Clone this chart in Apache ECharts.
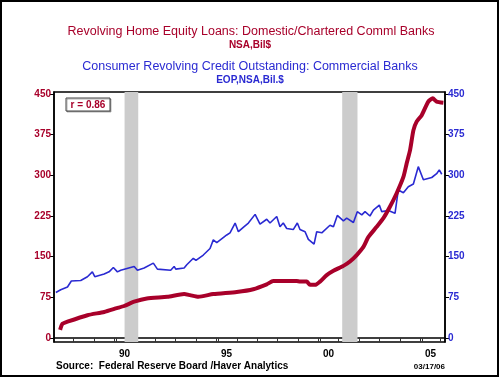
<!DOCTYPE html>
<html>
<head>
<meta charset="utf-8">
<script src="https://cdn.jsdelivr.net/npm/echarts@6/dist/echarts.min.js"></script>
<style>
  html, body { margin: 0; padding: 0; background: #fff; }
  #chart { width: 500px; height: 378px; }
</style>
</head>
<body>
<div id="chart"></div>
<script>
// decimal years and Bil$ values
const homeEquityYears = [1987.34, 1987.45, 1987.70, 1988.68, 1989.50, 1990.12, 1990.48, 1990.97, 1991.59, 1992.60,
  1993.42, 1993.71, 1994.12, 1994.85, 1996.00, 1996.81, 1997.47, 1997.79, 1998.94, 1999.10,
  1999.43, 1999.59, 1999.84, 2000.08, 2000.41, 2000.74, 2001.23, 2001.55, 2001.88, 2002.21,
  2002.45, 2002.86, 2003.19, 2003.51, 2003.84, 2004.17, 2004.33, 2004.50, 2004.66, 2004.82,
  2005.07, 2005.39, 2005.61, 2005.80, 2006.13]
const homeEquityValues = [15, 26, 30, 42, 48, 55, 59, 67, 73, 76,
  81, 79, 76, 81, 85, 90, 99, 105, 105, 104,
  104, 98, 98, 104, 116, 124, 133, 141, 153, 168,
  186, 205, 221, 242, 267, 297, 322, 347, 383, 399,
  411, 436, 442, 436, 434]

const revolvingYears = [1987.13, 1987.37, 1987.70, 1987.89, 1988.35, 1988.68, 1988.92, 1989.04, 1989.50, 1989.74,
  1989.95, 1990.15, 1990.31, 1990.39, 1990.97, 1991.13, 1991.46, 1991.91, 1992.11, 1992.76,
  1992.93, 1993.01, 1993.42, 1993.55, 1993.87, 1994.00, 1994.36, 1994.69, 1994.85, 1995.02,
  1995.51, 1995.67, 1995.92, 1996.08, 1996.32, 1996.57, 1996.90, 1997.14, 1997.47, 1997.63,
  1997.96, 1998.12, 1998.28, 1998.45, 1998.77, 1998.97, 1999.10, 1999.35, 1999.51, 1999.79,
  1999.92, 2000.17, 2000.57, 2000.74, 2000.93, 2001.23, 2001.39, 2001.72, 2001.91, 2002.13,
  2002.29, 2002.53, 2002.70, 2002.99, 2003.11, 2003.43, 2003.76, 2003.92, 2004.17, 2004.41,
  2004.66, 2004.74, 2004.90, 2005.15, 2005.56, 2005.80, 2005.93, 2006.05]
const revolvingValues = [84, 89, 94, 105, 106, 113, 122, 113, 118, 122,
  130, 122, 125, 122, 132, 125, 129, 138, 127, 125,
  132, 127, 129, 135, 147, 143, 153, 165, 181, 176,
  190, 194, 212, 196, 204, 212, 228, 210, 219, 212,
  224, 205, 212, 202, 200, 212, 200, 196, 182, 173,
  196, 194, 208, 205, 226, 216, 221, 213, 233, 227,
  233, 225, 236, 245, 233, 235, 230, 273, 268, 279,
  284, 285, 316, 292, 296, 303, 310, 302]

const recessions = [[1990.5, 1991.17], [2001.17, 2001.92]]
const yTicks = [0, 75, 150, 225, 300, 375, 450]
const yearTicks = [1988, 1989, 1990, 1990.08, 1991, 1992, 1993, 1994, 1995, 1995.08, 1996, 1997, 1998, 1999,
  2000, 2000.08, 2001, 2002, 2003, 2004, 2005, 2005.08, 2006]
const yearLabels = { 1990.5: '90', 1995.5: '95', 2000.5: '00', 2005.5: '05' }

const RED = '#a8002a'
const BLUE = '#2a2ad2'
const FONT = 'Liberation Sans, Arial, sans-serif'

const chart = echarts.init(document.getElementById('chart'))

function yAxisCfg(pos, color) {
  return {
    type: 'value',
    position: pos,
    min: -7.4,
    max: 453.7,
    axisLine: { show: true, lineStyle: { color: '#000', width: 1.5 } },
    axisTick: { show: true, customValues: yTicks, length: 4, lineStyle: { color: '#000' } },
    axisLabel: {
      customValues: yTicks,
      color: color,
      fontFamily: FONT,
      fontSize: 10,
      fontWeight: 'bold',
      margin: 3,
    },
    splitLine: { show: false },
  }
}

chart.setOption({
  animation: false,
  backgroundColor: '#fff',
  grid: {
    left: 54, right: 55, top: 92, bottom: 36,
    show: true, borderColor: '#000', borderWidth: 1.5,
  },
  xAxis: {
    type: 'value',
    min: 1987.04,
    max: 2006.21,
    axisLine: { show: true, lineStyle: { color: '#000', width: 1.5 } },
    axisTick: { show: true, customValues: yearTicks, length: 4, lineStyle: { color: '#333' } },
    axisLabel: {
      customValues: Object.keys(yearLabels).map(Number),
      formatter: (v) => yearLabels[v] ?? '',
      color: '#000',
      fontFamily: FONT,
      fontSize: 10,
      fontWeight: 'bold',
      margin: 7,
    },
    splitLine: { show: false },
  },
  yAxis: [yAxisCfg('left', RED), yAxisCfg('right', BLUE)],
  graphic: [
    { type: 'rect', shape: { x: 1, y: 1, width: 497, height: 375 }, style: { fill: 'none', stroke: '#000', lineWidth: 2 }, silent: true },
    { type: 'text', x: 251, y: 32, style: { text: 'Revolving Home Equity Loans: Domestic/Chartered Comml Banks', fill: RED, font: '12.5px ' + FONT, align: 'center', verticalAlign: 'middle' } },
    { type: 'text', x: 250, y: 45, style: { text: 'NSA,Bil$', fill: RED, font: 'bold 10px ' + FONT, align: 'center', verticalAlign: 'middle' } },
    { type: 'text', x: 250, y: 67, style: { text: 'Consumer Revolving Credit Outstanding: Commercial Banks', fill: BLUE, font: '12.5px ' + FONT, align: 'center', verticalAlign: 'middle' } },
    { type: 'text', x: 250, y: 80, style: { text: 'EOP,NSA,Bil.$', fill: BLUE, font: 'bold 10px ' + FONT, align: 'center', verticalAlign: 'middle' } },
    { type: 'rect', shape: { x: 66, y: 98, width: 44, height: 13 }, style: { fill: '#fff', stroke: '#444', lineWidth: 1, shadowColor: 'rgba(0,0,0,0.3)', shadowOffsetX: 1, shadowOffsetY: 1 } },
    { type: 'text', x: 88, y: 105, style: { text: 'r = 0.86', fill: RED, font: 'bold 10px ' + FONT, align: 'center', verticalAlign: 'middle' } },
    { type: 'text', x: 56, y: 366, style: { text: 'Source:  Federal Reserve Board /Haver Analytics', fill: '#000', font: 'bold 10px ' + FONT, verticalAlign: 'middle' } },
    { type: 'text', x: 445, y: 367, style: { text: '03/17/06', fill: '#000', font: 'bold 8px ' + FONT, align: 'right', verticalAlign: 'middle' } },
  ],
  series: [
    {
      name: 'recessions',
      type: 'line',
      data: [],
      z: 1,
      markArea: {
        silent: true,
        itemStyle: { color: '#cccccc' },
        data: recessions.map(([a, b]) => [{ xAxis: a }, { xAxis: b }]),
      },
    },
    {
      name: 'Consumer Revolving Credit',
      type: 'line',
      yAxisIndex: 1,
      z: 3,
      showSymbol: false,
      data: revolvingYears.map((x, i) => [x, revolvingValues[i]]),
      lineStyle: { color: BLUE, width: 1.6 },
    },
    {
      name: 'Revolving Home Equity Loans',
      type: 'line',
      yAxisIndex: 0,
      z: 4,
      showSymbol: false,
      smooth: 0.2,
      data: homeEquityYears.map((x, i) => [x, homeEquityValues[i]]),
      lineStyle: { color: RED, width: 4 },
    },
  ],
})
</script>
</body>
</html>
